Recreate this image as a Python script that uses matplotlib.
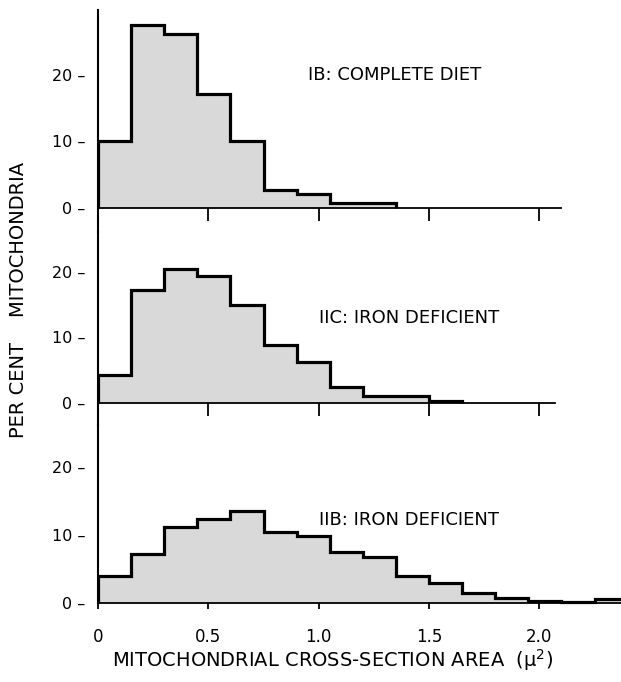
import numpy as np
import matplotlib
matplotlib.use("Agg")
import matplotlib.pyplot as plt

# bin width of the histograms (square microns)
bin_width = 0.15

# per cent mitochondria in each size class
complete_diet = [10.0, 27.6, 26.1, 17.1, 10.1, 2.7, 2.1, 0.7, 0.7]
iron_def_IIC = [4.3, 17.3, 20.5, 19.4, 15.0, 8.9, 6.3, 2.5, 1.0, 1.0, 0.3]
iron_def_IIB = [3.9, 7.2, 11.2, 12.4, 13.6, 10.4, 9.8, 7.5, 6.8, 4.0, 2.9,
                1.4, 0.7, 0.3, 0.1, 0.6]

panel_labels = ["IB: COMPLETE DIET", "IIC: IRON DEFICIENT", "IIB: IRON DEFICIENT"]
x_ticks = [0, 0.5, 1.0, 1.5, 2.0]
x_ticklabels = ["0", "0.5", "1.0", "1.5", "2.0"]
y_ticks = [0, 10, 20]
y_ticklabels = ["0 \u2013", "10 \u2013", "20 \u2013"]

fig = plt.figure(figsize=(6.21, 6.82), dpi=100)

left = 98 / 621
# [bottom, height, ylim bottom, ylim top, baseline end]
panels = [
    (0.660, 0.3255, -3.6, 29.8, 2.1),
    (0.3768, 0.283, -3.36, 26.1, 2.07),
    (0.1129, 0.264, -0.3, 26.2, 2.37),
]
series = [complete_diet, iron_def_IIC, iron_def_IIB]
label_pos = [(0.95, 20.0), (1.0, 13.0), (1.0, 12.2)]

fill_col = "#d9d9d9"

for i, (vals, (b, h, y0, y1, xend)) in enumerate(zip(series, panels)):
    ax = fig.add_axes([left, b, 1 - left, h])
    edges = np.arange(len(vals) + 1) * bin_width
    ax.stairs(vals, edges, fill=True, color=fill_col, baseline=0)
    ax.stairs(vals, edges, color="black", linewidth=2.3, baseline=0)

    ax.set_xlim(0, 2.37)
    ax.set_ylim(y0, y1)
    ax.patch.set_alpha(0)

    ax.spines["top"].set_visible(False)
    ax.spines["right"].set_visible(False)
    ax.spines["bottom"].set_position(("data", 0))
    ax.spines["bottom"].set_bounds(0, xend)
    ax.spines["bottom"].set_linewidth(1.3)
    ax.spines["left"].set_linewidth(1.5)
    if i == 2:
        ax.spines["left"].set_bounds(0, y1)

    ax.set_yticks(y_ticks)
    ax.set_yticklabels(y_ticklabels, fontsize=11.5)
    ax.tick_params(axis="y", length=0, pad=9)

    ax.set_xticks(x_ticks)
    if i < 2:
        ax.set_xticklabels([])
        ax.tick_params(axis="x", direction="out", length=9, width=1.3)
    else:
        ax.set_xticklabels(x_ticklabels, fontsize=12)
        ax.tick_params(axis="x", direction="out", length=4, width=1.3, pad=14)

    lx, ly = label_pos[i]
    ax.text(lx, ly, panel_labels[i], fontsize=13, ha="left", va="center")

fig.text(0.03, 0.56, "PER CENT    MITOCHONDRIA", rotation=90,
         fontsize=14, ha="center", va="center")
fig.text(0.536, 0.032, "MITOCHONDRIAL CROSS-SECTION AREA  (\u03bc$^2$)",
         fontsize=14, ha="center", va="center")

fig.savefig("out.png", dpi=100)
